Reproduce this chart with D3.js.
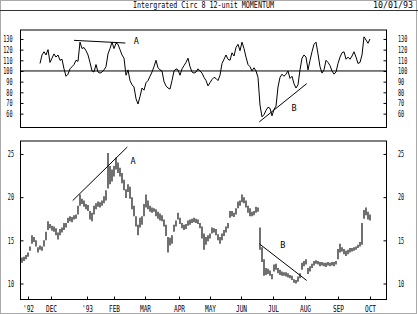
<!DOCTYPE html>
<html>
<head>
<meta charset="utf-8">
<script src="https://cdn.jsdelivr.net/npm/d3@7"></script>
<style>
  body { margin: 0; background: #fff; }
  svg { display: block; }
  text { font-family: "DejaVu Sans Mono", monospace; font-size: 8.5px; fill: #000; }
</style>
</head>
<body>
<svg></svg>
<script>
let width = 418;
let height = 314;

// daily price bars, one per trading day (low / high)
let lows = [
  12.4,12.6,12.8,13.1,13.8,14.6,14.8,14.3,13.6,13.9,13.8,14.3,15.0,16.2,16.4,16.1,16.0,15.6,15.1,15.6,
  15.9,16.2,16.5,17.0,17.2,17.1,17.4,17.5,18.0,19.0,19.2,18.9,18.6,18.4,17.4,17.2,18.0,18.6,18.9,18.8,
  19.0,19.3,19.6,21.0,21.5,21.8,22.4,23.2,22.8,22.4,21.6,20.8,19.9,20.6,19.8,18.6,17.8,16.6,15.6,16.5,
  16.8,17.8,18.8,18.6,18.3,18.2,18.3,17.8,17.5,17.3,17.2,16.6,15.5,13.6,14.4,14.6,16.0,16.6,17.4,16.9,
  16.4,16.2,16.3,16.7,16.8,17.0,17.1,17.0,16.9,16.4,15.2,13.9,14.5,14.9,15.2,15.8,15.9,15.6,15.0,14.6,
  15.0,15.5,15.9,16.4,17.6,17.8,17.7,18.0,18.7,19.0,19.4,19.3,18.8,18.2,17.8,17.8,17.9,18.2,18.3,13.9,
  12.5,10.9,11.0,11.1,10.9,10.5,11.4,11.6,11.2,11.0,10.9,10.9,10.8,10.7,10.6,10.4,10.1,10.0,10.2,10.6,
  11.6,12.0,12.2,11.1,11.4,11.8,12.1,12.3,12.2,12.0,12.1,12.0,11.9,12.1,12.0,12.1,12.0,12.2,12.8,13.6,
  13.7,13.4,13.2,13.4,13.6,13.7,13.8,13.9,14.1,14.3,14.5,17.5,17.9,17.4,17.3
];
let highs = [
  13.0,13.1,13.3,13.6,14.3,15.6,15.4,15.0,14.2,14.4,14.3,15.0,16.0,17.2,16.9,16.7,16.6,16.4,15.9,16.3,
  16.5,17.0,17.0,17.6,17.8,17.7,17.9,18.0,19.0,20.3,19.8,19.6,19.2,19.1,18.4,18.2,19.0,19.3,19.5,19.4,
  19.6,20.1,20.8,25.1,23.6,23.2,23.6,24.6,24.0,23.4,22.8,22.0,20.9,21.5,21.2,20.0,19.0,17.8,16.8,17.6,
  17.8,19.2,20.3,19.6,19.0,18.8,18.7,18.6,18.3,18.1,17.9,17.4,16.8,15.4,15.3,15.6,16.8,17.3,18.2,17.6,
  17.0,16.8,16.9,17.3,17.4,17.5,17.6,17.5,17.4,17.0,16.6,15.8,15.4,15.6,15.8,16.5,16.4,16.3,15.7,15.4,
  15.8,16.2,16.6,17.0,18.4,18.4,18.2,18.7,19.5,19.6,20.3,20.0,19.6,19.0,18.7,18.3,18.4,18.9,18.8,16.5,
  14.2,12.8,11.8,11.7,11.5,11.1,12.2,12.3,11.8,11.6,11.4,11.3,11.3,11.2,11.0,10.9,10.5,10.4,10.8,11.2,
  12.4,12.6,12.8,11.8,12.0,12.3,12.6,12.7,12.6,12.5,12.5,12.4,12.4,12.5,12.4,12.5,12.5,12.6,14.0,14.6,
  14.2,14.0,13.8,13.9,14.1,14.1,14.2,14.3,14.5,14.8,17.0,18.5,18.8,18.3,18.0
];

// 12-unit momentum, first value belongs to trading day momStart
let momStart = 9;
let momentum = [
  107,115,118,115,120,108,112,116,113,115,110,111,102,95,97,102,104,106,110,109,
  127,121,122,119,115,108,100,99,106,99,98,99,101,104,116,121,127,121,126,125,
  120,115,112,96,101,91,87,85,74,69,76,84,82,89,91,95,99,104,110,103,
  101,100,90,86,84,83,91,100,102,101,96,102,105,108,112,104,99,98,99,102,
  100,98,94,91,86,89,92,94,93,91,96,107,111,115,111,110,117,114,122,125,
  119,127,121,113,106,104,100,103,100,94,68,57,59,63,66,65,58,64,67,85,
  94,97,95,97,100,93,95,88,84,87,101,112,115,113,101,110,118,125,127,116,
  104,98,101,110,108,105,100,97,99,107,113,117,118,111,113,111,114,118,113,107,
  108,115,132,129,126,130
];

// month labels on the time axis (trading day positions)
let monthDays = [3, 14.5, 32.5, 46, 61.5, 78.5, 94, 109.5, 125.5, 141.5, 158, 174];
let monthLabels = ["'92", "DEC", "'93", "FEB", "MAR", "APR", "MAY", "JUN", "JUL", "AUG", "SEP", "OCT"];

let momTicks = [130, 120, 110, 100, 90, 80, 70, 60];
let priceTicks = [25, 20, 15, 10];

// trend lines drawn by the analyst: [day, value] pairs
let priceLineA = [[25.35, 19.6], [52.65, 25.8]];
let priceLineB = [[118.65, 14.6], [142.35, 10.35]];
let momLineA = [[26, 128.7], [51.65, 126.2]];
let momLineB = [[118.65, 52.3], [142.35, 88.1]];
let priceLabels = [["A", 55.5, 24.2], ["B", 130.4, 14.5]];
let momLabels = [["A", 57.2, 128], ["B", 136, 64.8]];

let title = "Intergrated Circ 8 12-unit MOMENTUM";
let dateText = "10/01/93";

let boxLeft = 20.5, boxRight = 386.5;
let topBox = [30, 127.5];
let botBox = [141, 299.5];

let xScale = d3.scaleLinear()
    .domain([0, highs.length - 1])
    .range([22, 370]);

let yMom = d3.scaleLinear()
    .domain([47, 138.4])
    .range([topBox[1], topBox[0]]);

let yPrice = d3.scaleLinear()
    .domain([8.15, 26.5])
    .range([botBox[1], botBox[0]]);

let svg = d3.select("svg")
    .attr("width", width)
    .attr("height", height);

// outer frame and header
svg.append("rect")
    .attr("x", 0.5).attr("y", 0.5)
    .attr("width", 416).attr("height", 313)
    .attr("fill", "none")
    .attr("stroke", "#aaa");

svg.append("line")
    .attr("x1", 0).attr("x2", width)
    .attr("y1", 10.5).attr("y2", 10.5)
    .attr("stroke", "#333");

svg.append("text")
    .attr("x", 203.5).attr("y", 8)
    .attr("text-anchor", "middle")
    .attr("textLength", 141)
    .attr("lengthAdjust", "spacingAndGlyphs")
    .text(title);

svg.append("text")
    .attr("x", 373).attr("y", 8)
    .attr("textLength", 40)
    .attr("lengthAdjust", "spacingAndGlyphs")
    .text(dateText);

// panel boxes
[topBox, botBox].forEach(b => {
    svg.append("rect")
        .attr("x", boxLeft).attr("y", b[0])
        .attr("width", boxRight - boxLeft).attr("height", b[1] - b[0])
        .attr("fill", "none")
        .attr("stroke", "#000");
});

function squeeze(sel) {
    sel.selectAll("text")
        .attr("textLength", function() { return this.textContent.length * 3.1; })
        .attr("lengthAdjust", "spacingAndGlyphs");
}

function valueAxes(scale, ticks, leftPad) {
    let left = svg.append("g")
        .attr("transform", "translate(" + boxLeft + ",0)")
        .call(d3.axisLeft(scale).tickValues(ticks).tickSize(-3).tickPadding(leftPad));
    let right = svg.append("g")
        .attr("transform", "translate(" + boxRight + ",0)")
        .call(d3.axisRight(scale).tickValues(ticks).tickSize(-3).tickPadding(11.5));
    [left, right].forEach(g => {
        g.select(".domain").remove();
        g.selectAll("line").attr("stroke", "#000");
        g.attr("font-size", null).attr("font-family", null);
        squeeze(g);
    });
}

valueAxes(yMom, momTicks, 8);
valueAxes(yPrice, priceTicks, 6.5);

// time axis under the price panel
let xAxis = svg.append("g")
    .attr("transform", "translate(0," + botBox[1] + ")")
    .call(d3.axisBottom(xScale)
        .tickValues(monthDays)
        .tickFormat((d, i) => monthLabels[i])
        .tickSize(-3)
        .tickPadding(6));
xAxis.select(".domain").remove();
xAxis.selectAll("line").attr("stroke", "#000");
xAxis.attr("font-size", null).attr("font-family", null);
xAxis.selectAll("text")
    .attr("textLength", function() { return this.textContent.length * 3.7; })
    .attr("lengthAdjust", "spacingAndGlyphs");

// momentum panel
svg.append("line")
    .attr("x1", boxLeft).attr("x2", boxRight)
    .attr("y1", yMom(100)).attr("y2", yMom(100))
    .attr("stroke", "#000");

let momLine = d3.line()
    .x((d, i) => xScale(momStart + i))
    .y(d => yMom(d));

svg.append("path")
    .datum(momentum)
    .attr("d", momLine)
    .attr("fill", "none")
    .attr("stroke", "#000")
    .attr("stroke-width", 1);

// price bars
svg.append("g")
    .selectAll("line")
    .data(highs)
    .enter()
    .append("line")
    .attr("x1", (d, i) => xScale(i))
    .attr("x2", (d, i) => xScale(i))
    .attr("y1", (d, i) => yPrice(lows[i]))
    .attr("y2", d => yPrice(d))
    .attr("stroke", "#111")
    .attr("stroke-width", 1.2);

// trend lines and notes
function trend(pts, yScale) {
    svg.append("line")
        .attr("x1", xScale(pts[0][0])).attr("y1", yScale(pts[0][1]))
        .attr("x2", xScale(pts[1][0])).attr("y2", yScale(pts[1][1]))
        .attr("stroke", "#000");
}
trend(priceLineA, yPrice);
trend(priceLineB, yPrice);
trend(momLineA, yMom);
trend(momLineB, yMom);

function notes(list, yScale) {
    list.forEach(n => {
        svg.append("text")
            .attr("x", xScale(n[1]))
            .attr("y", yScale(n[2]))
            .attr("dy", "0.35em")
            .attr("text-anchor", "middle")
            .text(n[0]);
    });
}
notes(priceLabels, yPrice);
notes(momLabels, yMom);
</script>
</body>
</html>
